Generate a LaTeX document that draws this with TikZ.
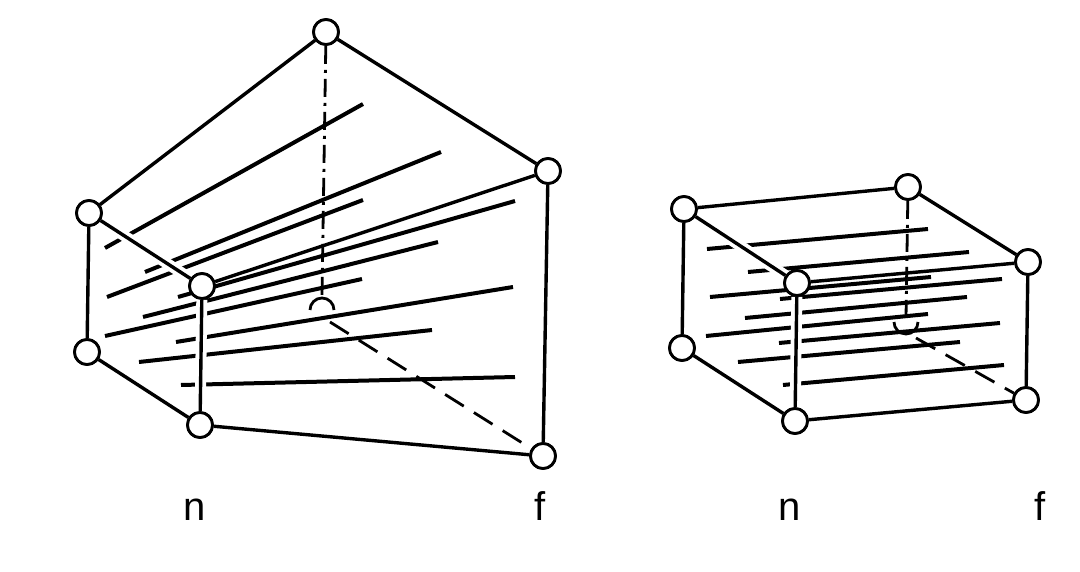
\documentclass[tikz,border=0pt]{standalone}
\usepackage{fontspec}
\setmainfont{Liberation Sans}
\begin{document}
\begin{tikzpicture}[x=1pt,y=-1pt,
  edge/.style={line width=3.4pt},
  front/.style={line width=3.4pt,preaction={draw,white,line width=11pt}},
  hatch/.style={line width=4pt},
  hid/.style={line width=2.8pt,dash pattern=on 22pt off 12pt},
  hidv/.style={line width=2.8pt,dash pattern=on 18pt off 6pt on 3pt off 6pt},
  vtx/.style={circle,draw,fill=white,line width=2.8pt,minimum size=25pt,inner sep=0pt},
  lab/.style={font=\fontsize{40}{40}\selectfont,anchor=base}]
\useasboundingbox (0,0) rectangle (1080,572);
% ---- left frustum
\node[vtx] (TB) at (326,32) {};
\node[vtx] (LT) at (89,213) {};
\node[vtx] (LB) at (87,352) {};
\node[vtx] (FT) at (202,286) {};
\node[vtx] (FB) at (200,425) {};
\node[vtx] (FR) at (548,171) {};
\node[vtx] (FBr) at (543,456) {};
\draw[hidv] (TB) -- (322,296);
\draw[line width=2.8pt] (310,310) arc (180:360:12);
\draw[hid] (330,322) -- (FBr);
\foreach \a/\b/\c/\d in {105/248/363/104,145/272/441/152,107/297/363/200,178/297/515/201,143/317/438/242,105/336/362/279,176/342/513/287,139/362/432/330,181/385/515/377}
  \draw[hatch] (\a,\b) -- (\c,\d);
\draw[edge] (TB) -- (LT) (TB) -- (FR) (LT) -- (LB) (LB) -- (FB) (FB) -- (FBr) (FR) -- (FBr);
\draw[front] (LT) -- (FT);
\draw[front] (FT) -- (FB);
\draw[edge] (FT) -- (FR);
\foreach \n in {TB,LT,LB,FT,FB,FR,FBr} \node[vtx] at (\n) {};
% ---- right box
\node[vtx] (BTL) at (684,209) {};
\node[vtx] (BTR) at (908,187) {};
\node[vtx] (RR) at (1028,262) {};
\node[vtx] (RB) at (1026,400) {};
\node[vtx] (FTL) at (797,283) {};
\node[vtx] (FBL) at (795,421) {};
\node[vtx] (RLB) at (682,348) {};
\draw[hidv] (BTR) -- (906,318);
\draw[line width=2.8pt] (894,322) arc (180:0:12);
\draw[hid] (916,338) -- (RB);
\foreach \a/\b/\c/\d in {707/249/928/229,748/272/969/252,710/297/931/277,780/299/1002/279,745/318/967/297,706/336/928/314,779/343/1000/323,738/362/960/342,783/385/1004/365}
  \draw[hatch] (\a,\b) -- (\c,\d);
\draw[edge] (BTL) -- (BTR) (BTR) -- (RR) (BTL) -- (RLB) (RLB) -- (FBL) (FBL) -- (RB) (RR) -- (RB);
\draw[front] (BTL) -- (FTL);
\draw[front] (FTL) -- (FBL);
\draw[edge] (FTL) -- (RR);
\foreach \n in {BTL,BTR,RR,RB,FTL,FBL,RLB} \node[vtx] at (\n) {};
% ---- labels
\node[lab] (n1) at (195,520) {n};
\node[lab] (f1) at (540,520) {f};
\node[lab] (n2) at (790,520) {n};
\node[lab] (f2) at (1040,520) {f};
\end{tikzpicture}
\end{document}
